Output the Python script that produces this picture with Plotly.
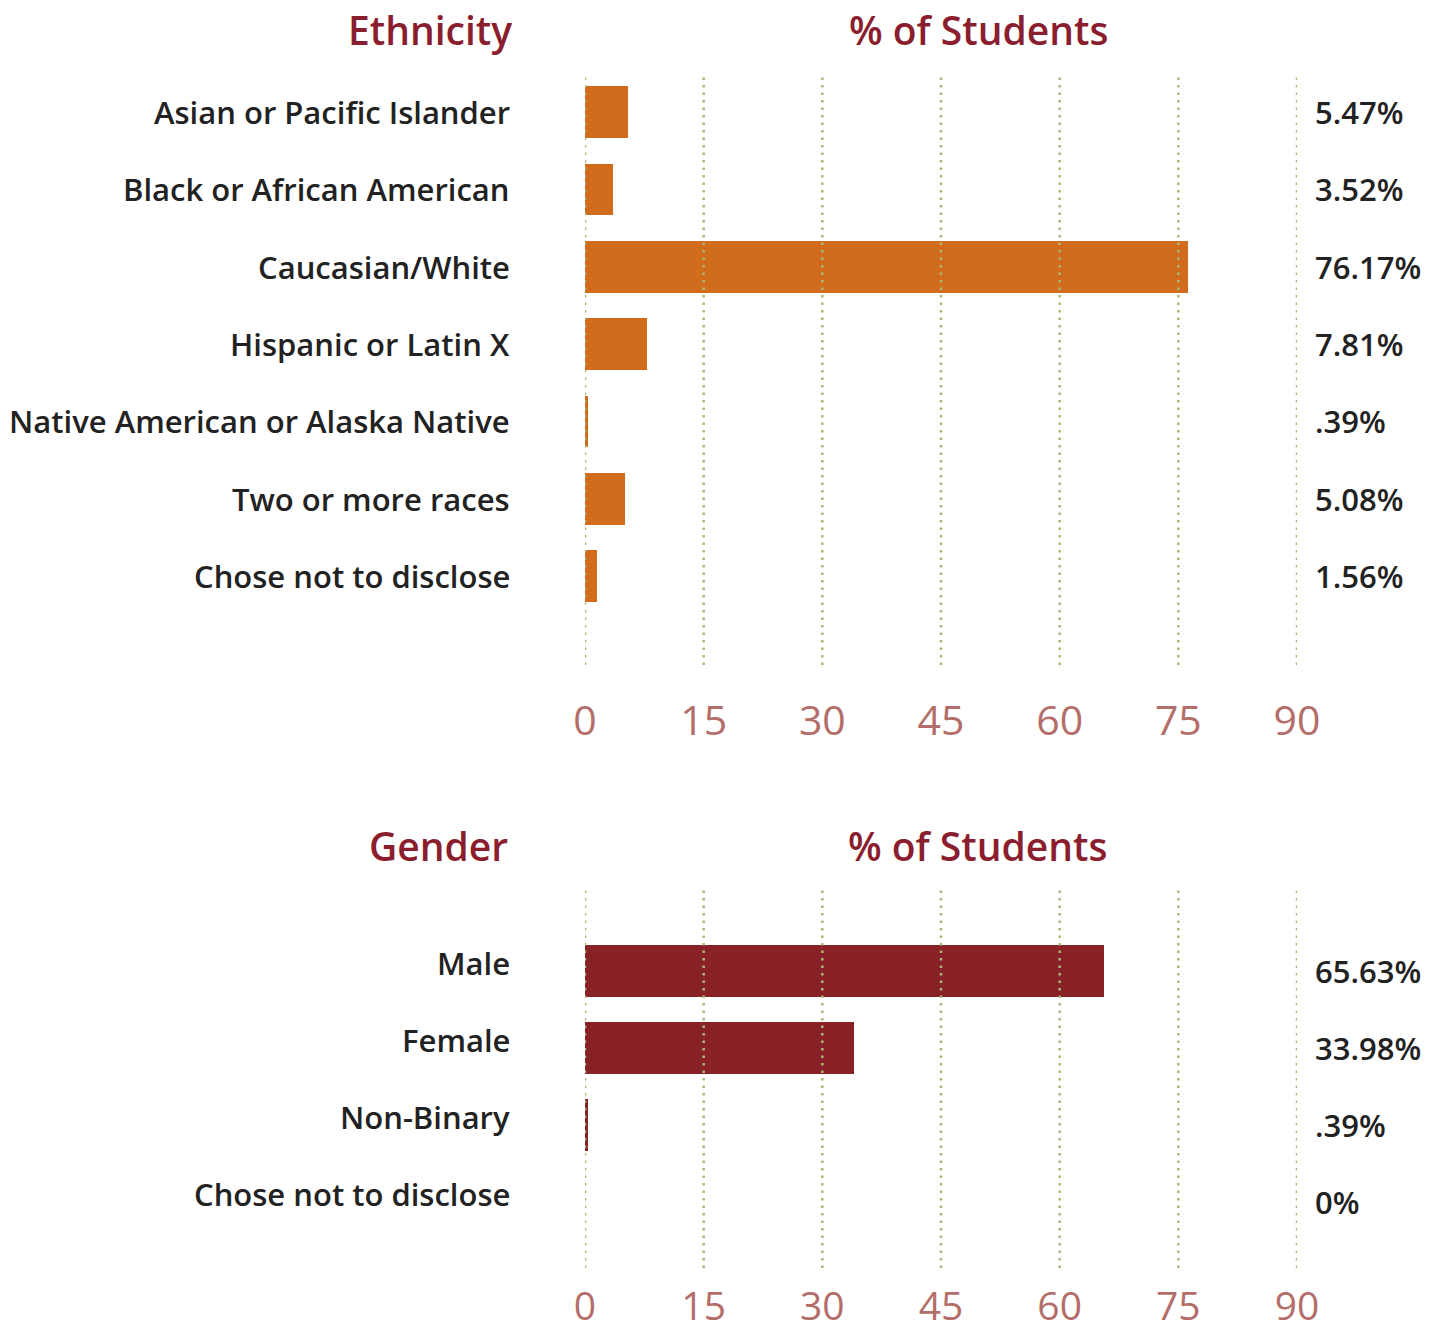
import plotly.graph_objects as go

# Survey data: share of students by ethnicity and by gender
ethnicity = [
    "Asian or Pacific Islander",
    "Black or African American",
    "Caucasian/White",
    "Hispanic or Latin X",
    "Native American or Alaska Native",
    "Two or more races",
    "Chose not to disclose",
]
ethnicity_pct = [5.47, 3.52, 76.17, 7.81, 0.39, 5.08, 1.56]
ethnicity_lbl = ["5.47%", "3.52%", "76.17%", "7.81%", ".39%", "5.08%", "1.56%"]

gender = ["Male", "Female", "Non-Binary", "Chose not to disclose"]
gender_pct = [65.63, 33.98, 0.39, 0.0]
gender_lbl = ["65.63%", "33.98%", ".39%", "0%"]

ticks = [0, 15, 30, 45, 60, 75, 90]

W, H = 1430, 1334
FONT = "Open Sans"
TITLE_RED = "#8A1E2E"
TICK_ROSE = "#B46E6A"
TEXT = "#222222"
GRID = "#A9B879"
ORANGE = "#D06C1C"
CRIMSON = "#892226"

x_dom = [585 / W, 1297 / W]
top_dom = [1 - 665 / H, 1 - 75 / H]
bot_dom = [1 - 1268 / H, 1 - 888 / H]

fig = go.Figure()

fig.add_trace(go.Bar(
    x=ethnicity_pct, y=list(range(len(ethnicity))), orientation="h",
    marker=dict(color=ORANGE, line=dict(width=0)), width=0.67,
    xaxis="x", yaxis="y", hoverinfo="skip", showlegend=False,
))
fig.add_trace(go.Bar(
    x=gender_pct, y=list(range(len(gender))), orientation="h",
    marker=dict(color=CRIMSON, line=dict(width=0)), width=0.67,
    xaxis="x2", yaxis="y2", hoverinfo="skip", showlegend=False,
))

xaxis_common = dict(
    range=[0, 90], tickvals=ticks, ticktext=[str(t) for t in ticks],
    showgrid=False, zeroline=False, showline=False,
    ticks="", automargin=False, fixedrange=True,
)
yaxis_common = dict(
    showgrid=False, zeroline=False, showticklabels=False,
    automargin=False, fixedrange=True,
)
fig.update_layout(
    width=W, height=H,
    margin=dict(l=0, r=0, t=0, b=0, autoexpand=False),
    paper_bgcolor="white", plot_bgcolor="white",
    bargap=0,
    xaxis=dict(domain=x_dom, anchor="y", ticklabelstandoff=28,
               tickfont=dict(family=FONT, size=41, color=TICK_ROSE), **xaxis_common),
    yaxis=dict(domain=top_dom, anchor="x", range=[7.15, -0.48], **yaxis_common),
    xaxis2=dict(domain=x_dom, anchor="y2", ticklabelstandoff=12,
                tickfont=dict(family=FONT, size=39, color=TICK_ROSE), **xaxis_common),
    yaxis2=dict(domain=bot_dom, anchor="x2", range=[3.86, -1.08], **yaxis_common),
)

# Dotted vertical guides drawn over the bars at each tick value
for xa, ya in (("x", "y"), ("x2", "y2")):
    for t in ticks:
        fig.add_shape(
            type="line", xref=xa, yref=f"{ya} domain",
            x0=t, x1=t, y0=0, y1=1, layer="above",
            line=dict(color=GRID, width=2.5, dash="2.5px,5px"),
        )

annotations = []

def add_text(text, x, y, yref, xanchor, size, color, yshift=0, weight=600):
    annotations.append(dict(
        text=text, x=x, y=y, xref="paper", yref=yref, xanchor=xanchor,
        yanchor="middle", showarrow=False, yshift=yshift,
        font=dict(family=FONT, size=size, color=color, weight=weight),
    ))

# Category names and value labels
for i, (name, lbl) in enumerate(zip(ethnicity, ethnicity_lbl)):
    add_text(name, 512 / W, i, "y", "right", 31, TEXT)
    add_text(lbl, 1313 / W, i, "y", "left", 31, TEXT)
for i, (name, lbl) in enumerate(zip(gender, gender_lbl)):
    add_text(name, 512 / W, i, "y2", "right", 31, TEXT, yshift=8)
    add_text(lbl, 1313 / W, i, "y2", "left", 31, TEXT)

# Panel headers
add_text("Ethnicity", 514 / W, 1 - 30 / H, "paper", "right", 39, TITLE_RED)
add_text("% of Students", 978 / W, 1 - 30 / H, "paper", "center", 39, TITLE_RED)
add_text("Gender", 510 / W, 1 - 845 / H, "paper", "right", 39, TITLE_RED)
add_text("% of Students", 977 / W, 1 - 845 / H, "paper", "center", 39, TITLE_RED)

fig.update_layout(annotations=annotations)

fig.write_html("out.html")
